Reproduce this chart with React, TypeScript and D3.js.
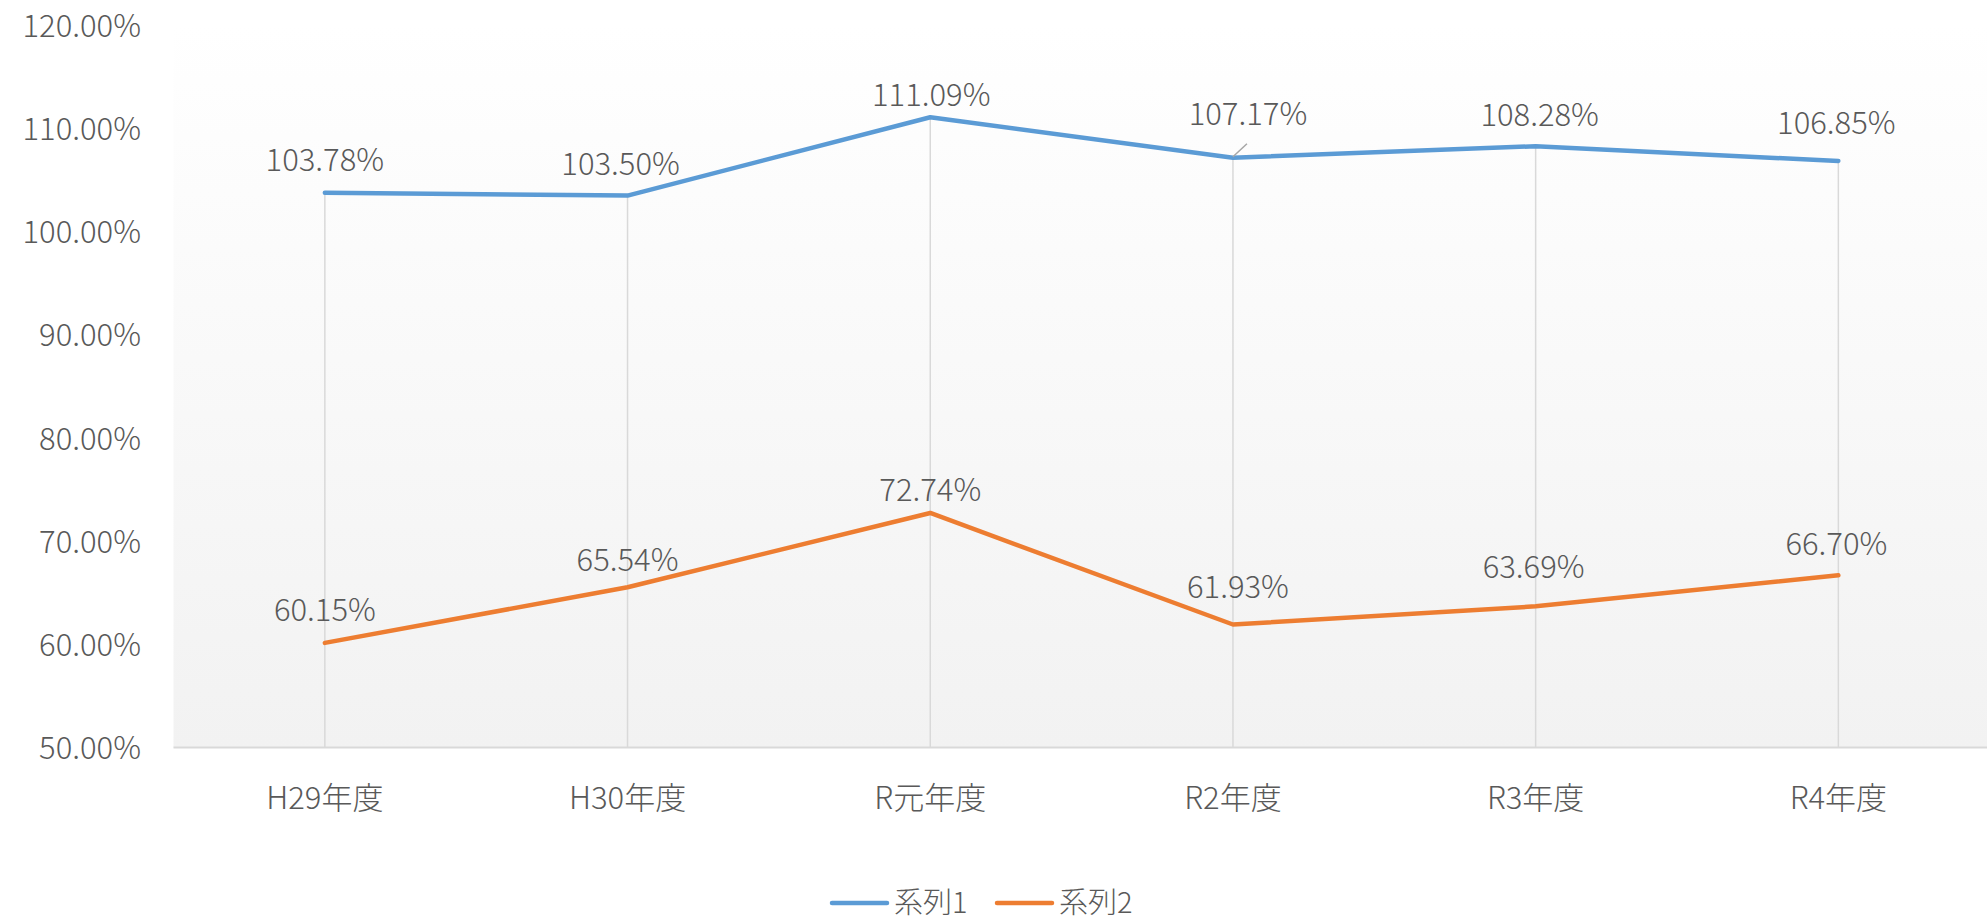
import React from "react";
import * as d3 from "d3";

const categories = ["H29年度", "H30年度", "R元年度", "R2年度", "R3年度", "R4年度"];
const series1 = [1.0378, 1.035, 1.1109, 1.0717, 1.0828, 1.0685];
const series2 = [0.6015, 0.6554, 0.7274, 0.6193, 0.6369, 0.667];
const seriesNames = ["系列1", "系列2"];
const yTicks = [0.5, 0.6, 0.7, 0.8, 0.9, 1.0, 1.1, 1.2];

// label nudges (manual placement in the original chart), in px
const labelDx1 = [0, -7, 1, 15, 4, -2];
const labelDy1 = [-35, -34, -25, -46, -34, -40];
const labelDx2 = [0, 0, 0, 5, -2, -2];
const labelDy2 = [-35, -30, -25, -40, -42, -34];
const leader1 = [false, false, false, true, false, false];

const W = 1987;
const H = 924;
const plotLeft = 173.5;
const plotRight = 1989.7;
const plotTop = 25.3;
const plotBottom = 747.6;

const COLORS = ["#5b9bd5", "#ed7d31"];
const TEXT = "#595959";
const FONT = "'Noto Sans CJK JP', 'Noto Sans', sans-serif";

export default function App() {
  const x = d3.scaleBand<string>().domain(categories).range([plotLeft, plotRight]).paddingInner(0).paddingOuter(0);
  const cx = (c: string) => (x(c) as number) + x.bandwidth() / 2;
  const y = d3.scaleLinear().domain([0.5, 1.2]).range([plotBottom, plotTop]);
  const fmt = d3.format(".2%");
  const line = d3
    .line<number>()
    .x((_, i) => cx(categories[i]))
    .y((d) => y(d));

  const all = [series1, series2];
  const dxs = [labelDx1, labelDx2];
  const dys = [labelDy1, labelDy2];

  return (
    <svg
      width={W}
      height={H}
      style={{ position: "absolute", left: 0, top: 0, display: "block", background: "#fff" }}
      fontFamily={FONT}
    >
      <defs>
        <linearGradient id="bg" x1="0" y1="0" x2="0" y2="1">
          <stop offset="0" stopColor="#ffffff" />
          <stop offset="1" stopColor="#f2f2f2" />
        </linearGradient>
      </defs>
      <rect x={plotLeft} y={plotTop} width={plotRight - plotLeft} height={plotBottom - plotTop} fill="url(#bg)" />

      {categories.map((c, i) => (
        <line
          key={"drop" + i}
          x1={cx(c)}
          x2={cx(c)}
          y1={y(Math.max(series1[i], series2[i]))}
          y2={plotBottom}
          stroke="#d9d9d9"
          strokeWidth={1.5}
        />
      ))}

      <line x1={plotLeft} x2={plotRight} y1={plotBottom} y2={plotBottom} stroke="#d9d9d9" strokeWidth={2} />

      {yTicks.map((t) => (
        <text
          key={"yt" + t}
          x={141}
          y={y(t) - 2}
          textAnchor="end"
          dominantBaseline="central"
          fontSize={31}
          fill={TEXT}
          fontWeight={300}
        >
          {fmt(t)}
        </text>
      ))}

      {categories.map((c) => (
        <text
          key={"xc" + c}
          x={cx(c)}
          y={795}
          textAnchor="middle"
          dominantBaseline="central"
          fontSize={31}
          fill={TEXT}
          fontWeight={300}
        >
          {c}
        </text>
      ))}

      {all.map((s, si) => (
        <path
          key={"line" + si}
          d={line(s) || ""}
          fill="none"
          stroke={COLORS[si]}
          strokeWidth={4.5}
          strokeLinecap="round"
          strokeLinejoin="round"
        />
      ))}

      {series1.map((v, i) =>
        leader1[i] ? (
          <line
            key={"ld" + i}
            x1={cx(categories[i])}
            y1={y(v) - 1}
            x2={cx(categories[i]) + 14}
            y2={y(v) - 14}
            stroke="#a6a6a6"
            strokeWidth={1.5}
          />
        ) : null
      )}

      {all.map((s, si) =>
        s.map((v, i) => (
          <text
            key={"dl" + si + "-" + i}
            x={cx(categories[i]) + dxs[si][i]}
            y={y(v) + dys[si][i]}
            textAnchor="middle"
            dominantBaseline="central"
            fontSize={31}
            fill={TEXT}
            fontWeight={300}
          >
            {fmt(v)}
          </text>
        ))
      )}

      {seriesNames.map((n, i) => {
        const x0 = i === 0 ? 832 : 997;
        return (
          <g key={"lg" + i}>
            <line x1={x0} x2={x0 + 55} y1={903} y2={903} stroke={COLORS[i]} strokeWidth={4.5} strokeLinecap="round" />
            <text x={x0 + 62} y={900} dominantBaseline="central" fontSize={29} fill={TEXT} fontWeight={300}>
              {n}
            </text>
          </g>
        );
      })}
    </svg>
  );
}
